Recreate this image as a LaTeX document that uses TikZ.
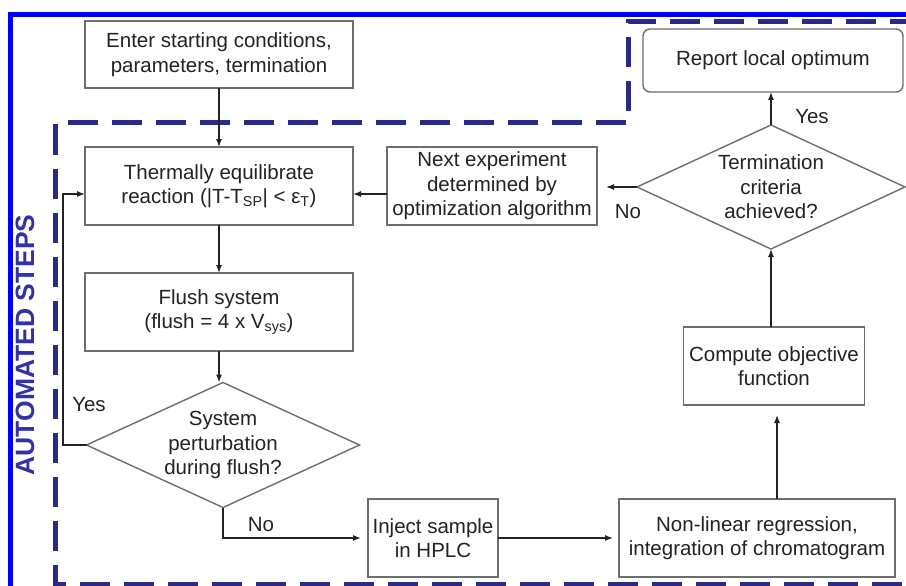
\documentclass[tikz,border=0pt]{standalone}
\usepackage{fontspec}
\setmainfont{Liberation Sans}
\usetikzlibrary{shapes.geometric,arrows.meta}
\definecolor{framebl}{RGB}{0,0,250}
\definecolor{dashnv}{RGB}{42,42,135}
\definecolor{boxgr}{RGB}{110,110,110}
\definecolor{txtgr}{RGB}{35,35,35}
\definecolor{lblbl}{RGB}{50,50,165}
\begin{document}
\begin{tikzpicture}[x=1pt,y=-1pt,
  every node/.style={font=\fontsize{20.5}{24.5}\selectfont, text=txtgr, inner sep=0pt, outer sep=0pt},
  procbox/.style={draw=boxgr, line width=1.4pt, align=center, minimum width=#1, minimum height=78pt},
  decision/.style={draw=boxgr, line width=1.4pt, shape=diamond},
  conn/.style={draw=txtgr, line width=1.2pt, -{Latex[length=8pt,width=6pt]}},
  lbl/.style={}
]
\useasboundingbox (0,0) rectangle (906,586);
\clip (0,0) rectangle (906,586);
\fill[white] (0,0) rectangle (906,586);

% frames
\draw[framebl, line width=5pt] (10.5,600) -- (10.5,14.5) -- (920,14.5);
\draw[dashnv, line width=5pt, dash pattern=on 30pt off 14pt] (920,21.5) -- (628,21.5) -- (628,123) -- (55,123) -- (55,584) -- (920,584);
\node[rotate=90, font=\fontsize{26.5}{30}\selectfont\bfseries, text=lblbl] (auto) at (25,345) {AUTOMATED STEPS};

% nodes
\node[procbox=268pt, minimum height=67pt] (enter) at (219,54.5) {Enter starting conditions,\\parameters, termination};
\node[procbox=268pt] (therm) at (219,186) {Thermally equilibrate\\reaction (|T-T\textsubscript{SP}| < ε\textsubscript{T})};
\node[procbox=210pt] (next) at (492,186) {Next experiment\\determined by\\optimization algorithm};
\node[procbox=268pt] (flush) at (219,312) {Flush system\\(flush = 4 x V\textsubscript{sys})};
\node[decision, minimum width=273pt, minimum height=125pt] (sysd) at (223,445) {};
\node[align=center] (sysdt) at (sysd) {System\\perturbation\\during flush?};
\node[procbox=130pt] (inject) at (433,538) {Inject sample\\in HPLC};
\node[procbox=276pt] (nonlin) at (757,538) {Non-linear regression,\\integration of chromatogram};
\node[procbox=181pt] (compute) at (774,366) {Compute objective\\function};
\node[decision, minimum width=268pt, minimum height=124pt] (termd) at (771,187) {};
\node[align=center] (termdt) at (termd) {Termination\\criteria\\achieved?};
\node[procbox=260pt, minimum height=63pt, rounded corners=7pt] (report) at (773,60.5) {Report local optimum};

% labels
\node (yes1) at (89,405) {Yes};
\node (no1) at (261,525) {No};
\node (no2) at (628,212) {No};
\node (yes2) at (812,117) {Yes};

% connectors
\coordinate (loopc) at (63,194);
\coordinate (rcol) at (777,0);
\draw[conn] (enter) -- (therm);
\draw[conn] (therm) -- (flush);
\draw[conn] (flush.south) -- (flush.south |- sysd.north);
\draw[conn] (sysd.west) -| (loopc) -- (therm.west |- loopc);
\draw[conn, shorten >=7pt] (sysd.south) |- (inject.west);
\draw[conn, shorten >=6pt] (inject) -- (nonlin);
\draw[conn, shorten >=10pt] (nonlin.north -| rcol) -- (compute.south -| rcol);
\draw[conn] (compute.north -| termd.south) -- (termd.south);
\draw[conn] (termd.north) -- (report.south -| termd.north);
\draw[conn, shorten >=9pt] (termd.west) -- (next.east |- termd.west);
\draw[conn] ([yshift=-8pt]next.west) -- ([yshift=-8pt]therm.east);
\end{tikzpicture}
\end{document}
